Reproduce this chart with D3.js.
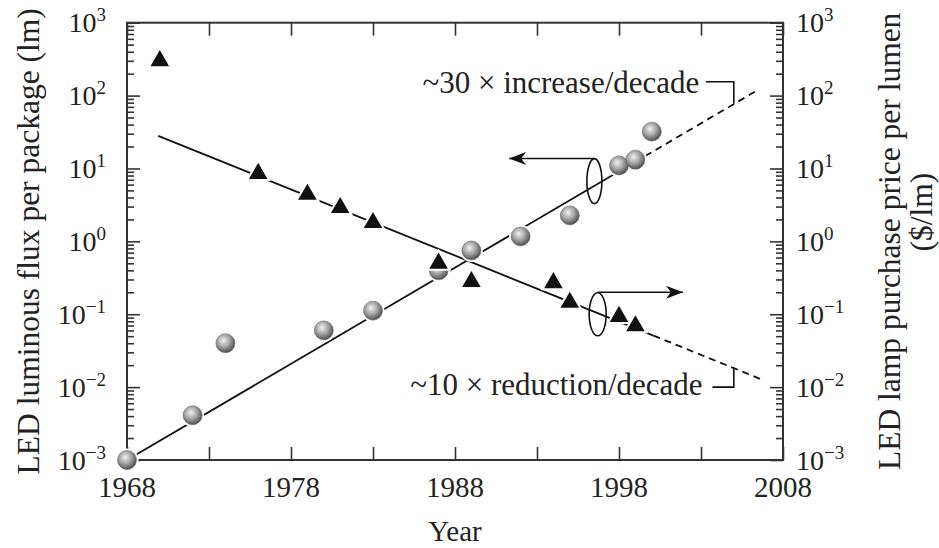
<!DOCTYPE html>
<meta charset="utf-8">
<script src="https://cdn.jsdelivr.net/npm/d3@7"></script>
<style>
  body { margin: 0; background: #fff; }
  text { font-family: "Liberation Serif", "Times New Roman", serif; fill: #222; }
</style>
<div id="chart"></div>
<script>
// ---- data ----
const fluxYears  = [1968, 1972, 1974, 1980, 1983, 1987, 1989, 1992, 1995, 1998, 1999, 2000];
const fluxValues = [0.001, 0.0041, 0.04, 0.06, 0.112, 0.4, 0.75, 1.17, 2.27, 11, 13.2, 32];

const priceYears  = [1970, 1976, 1979, 1981, 1983, 1987, 1989, 1994, 1995, 1998, 1999];
const priceValues = [300, 8.5, 4.4, 2.9, 1.8, 0.5, 0.28, 0.27, 0.145, 0.093, 0.069];

// trend lines: solid part and dashed extrapolation
const upSolid   = [[1968, 0.001], [1999.6, 14.8]];
const upDashed  = [[1999.6, 14.8], [2006.4, 117]];
const downSolid = [[1969.9, 28], [2000.1, 0.051]];
const downDashed = [[2000.1, 0.051], [2006.6, 0.013]];

const yearTicks = [1968, 1973, 1978, 1983, 1988, 1993, 1998, 2003, 2008];
const yearLabels = [1968, 1978, 1988, 1998, 2008];
const decadeTicks = [1e-3, 1e-2, 1e-1, 1, 10, 100, 1000];
const decadeExp = ["\u22123", "\u22122", "\u22121", "0", "1", "2", "3"];

const W = 939, H = 548;
const plotL = 127, plotR = 783, plotT = 22.7, plotB = 460;

const svg = d3.select("#chart").append("svg")
  .attr("width", W).attr("height", H);

const defs = svg.append("defs");
const grad = defs.append("radialGradient").attr("id", "ball")
  .attr("cx", "42%").attr("cy", "38%").attr("r", "62%")
  .attr("fx", "40%").attr("fy", "35%");
grad.append("stop").attr("offset", "0%").attr("stop-color", "#f2f2f2");
grad.append("stop").attr("offset", "55%").attr("stop-color", "#a0a0a0");
grad.append("stop").attr("offset", "100%").attr("stop-color", "#4e4e4e");

defs.append("marker").attr("id", "arrow")
  .attr("viewBox", "-18 -8 20 16").attr("refX", 0).attr("refY", 0)
  .attr("markerWidth", 20).attr("markerHeight", 16)
  .attr("markerUnits", "userSpaceOnUse").attr("orient", "auto")
  .append("path").attr("d", "M0,0 L-17,-6.5 L-12,0 L-17,6.5 Z").attr("fill", "#111");

const x = d3.scaleLinear().domain([1968, 2008]).range([plotL, plotR]);
const y = d3.scaleLog().domain([1e-3, 1e3]).range([plotB, plotT]);

const axisColor = "#333";
const styleAxis = g => {
  g.select(".domain").remove();
  g.selectAll("line").attr("stroke", axisColor).attr("stroke-width", 1.6);
};

// minor log ticks (left and right)
const minor = y.ticks().filter(v => !decadeTicks.includes(v));
svg.append("g").attr("transform", `translate(${plotL},0)`)
  .call(d3.axisLeft(y).tickValues(minor).tickSize(-7).tickFormat(""))
  .call(styleAxis);
svg.append("g").attr("transform", `translate(${plotR},0)`)
  .call(d3.axisRight(y).tickValues(minor).tickSize(-7).tickFormat(""))
  .call(styleAxis);

// major ticks
svg.append("g").attr("transform", `translate(${plotL},0)`)
  .call(d3.axisLeft(y).tickValues(decadeTicks).tickSize(-13).tickFormat(""))
  .call(styleAxis);
svg.append("g").attr("transform", `translate(${plotR},0)`)
  .call(d3.axisRight(y).tickValues(decadeTicks).tickSize(-13).tickFormat(""))
  .call(styleAxis);

svg.append("g").attr("transform", `translate(0,${plotB})`)
  .call(d3.axisBottom(x).tickValues(yearTicks).tickSize(-13).tickFormat(""))
  .call(styleAxis);
svg.append("g").attr("transform", `translate(0,${plotT})`)
  .call(d3.axisTop(x).tickValues(yearTicks).tickSize(-13).tickFormat(""))
  .call(styleAxis);

// frame
svg.append("rect").attr("x", plotL).attr("y", plotT)
  .attr("width", plotR - plotL).attr("height", plotB - plotT)
  .attr("fill", "none").attr("stroke", axisColor).attr("stroke-width", 2);

// tick labels
const powLabel = (sel, anchor) => {
  sel.append("tspan").text("10");
  sel.append("tspan").attr("font-size", 19).attr("dy", -11).text((d, i) => decadeExp[i]);
  sel.attr("text-anchor", anchor);
};
svg.append("g").selectAll("text").data(decadeTicks).join("text")
  .attr("x", 106).attr("y", d => y(d) + 9.5)
  .attr("font-size", 28)
  .call(powLabel, "end");
svg.append("g").selectAll("text").data(decadeTicks).join("text")
  .attr("x", 796).attr("y", d => y(d) + 9.5)
  .attr("font-size", 28)
  .call(powLabel, "start");

svg.append("g").selectAll("text").data(yearLabels).join("text")
  .attr("x", d => x(d)).attr("y", 497)
  .attr("text-anchor", "middle").attr("font-size", 29)
  .text(d => d);

// axis titles
svg.append("text").attr("x", x(1988)).attr("y", 541)
  .attr("text-anchor", "middle").attr("font-size", 29).text("Year");
svg.append("text").attr("transform", `translate(39,${(plotT + plotB) / 2}) rotate(-90)`)
  .attr("text-anchor", "middle").attr("font-size", 31.5)
  .text("LED luminous flux per package (lm)");
svg.append("text").attr("transform", `translate(900,${(plotT + plotB) / 2}) rotate(-90)`)
  .attr("text-anchor", "middle").attr("font-size", 31.5)
  .text("LED lamp purchase price per lumen");
svg.append("text").attr("transform", `translate(932,212) rotate(-90)`)
  .attr("text-anchor", "middle").attr("font-size", 31.5)
  .text("($/lm)");

// trend lines
const line = d3.line().x(d => x(d[0])).y(d => y(d[1]));
[[upSolid, null], [upDashed, "7,5"], [downSolid, null], [downDashed, "7,5"]].forEach(([pts, dash]) => {
  svg.append("path").attr("d", line(pts))
    .attr("fill", "none").attr("stroke", "#111").attr("stroke-width", 1.8)
    .attr("stroke-dasharray", dash);
});

// annotation brackets
svg.append("path").attr("d", line([[2003.3, 155], [2005, 155], [2005, 77]]))
  .attr("fill", "none").attr("stroke", "#111").attr("stroke-width", 1.6);
svg.append("path").attr("d", line([[2003.7, 0.01], [2005, 0.01], [2005, 0.0186]]))
  .attr("fill", "none").attr("stroke", "#111").attr("stroke-width", 1.6);

svg.append("text").attr("x", x(2002.9)).attr("y", y(110))
  .attr("text-anchor", "end").attr("font-size", 31).text("~30 \u00d7 increase/decade");
svg.append("text").attr("x", x(2003.1)).attr("y", y(0.0079))
  .attr("text-anchor", "end").attr("font-size", 31).text("~10 \u00d7 reduction/decade");

// ellipses + arrows pointing at the relevant axis
const ell = [
  {year: 1996.5, v: 6.7, top: 13.7, to: 1991.3, rx: 7.5, ry: 22.5},
  {year: 1996.7, v: 0.1, top: 0.2, to: 2001.9, rx: 8.5, ry: 21.5}
];

// flux spheres
const balls = svg.append("g");
balls.selectAll(".halo").data(fluxYears).join("circle").attr("class", "halo")
  .attr("cx", d => x(d)).attr("cy", (d, i) => y(fluxValues[i]))
  .attr("r", 11.5).attr("fill", "#fff");
balls.selectAll(".ball").data(fluxYears).join("circle").attr("class", "ball")
  .attr("cx", d => x(d)).attr("cy", (d, i) => y(fluxValues[i]))
  .attr("r", 9.5).attr("fill", "url(#ball)").attr("stroke", "#666").attr("stroke-width", 0.6);

// price triangles (drawn over the spheres)
const tri = d3.symbol().type(d3.symbolTriangle).size(150);
svg.append("g").selectAll("path").data(priceYears).join("path")
  .attr("transform", (d, i) => `translate(${x(d)},${y(priceValues[i])})`)
  .attr("d", tri)
  .attr("fill", "#111").attr("stroke", "#fff").attr("stroke-width", 4)
  .style("paint-order", "stroke");

ell.forEach(e => {
  svg.append("ellipse").attr("cx", x(e.year)).attr("cy", y(e.v))
    .attr("rx", e.rx).attr("ry", e.ry)
    .attr("fill", "none").attr("stroke", "#111").attr("stroke-width", 1.6);
  svg.append("line").attr("x1", x(e.year)).attr("y1", y(e.top))
    .attr("x2", x(e.to)).attr("y2", y(e.top))
    .attr("stroke", "#111").attr("stroke-width", 1.6)
    .attr("marker-end", "url(#arrow)");
});
</script>
